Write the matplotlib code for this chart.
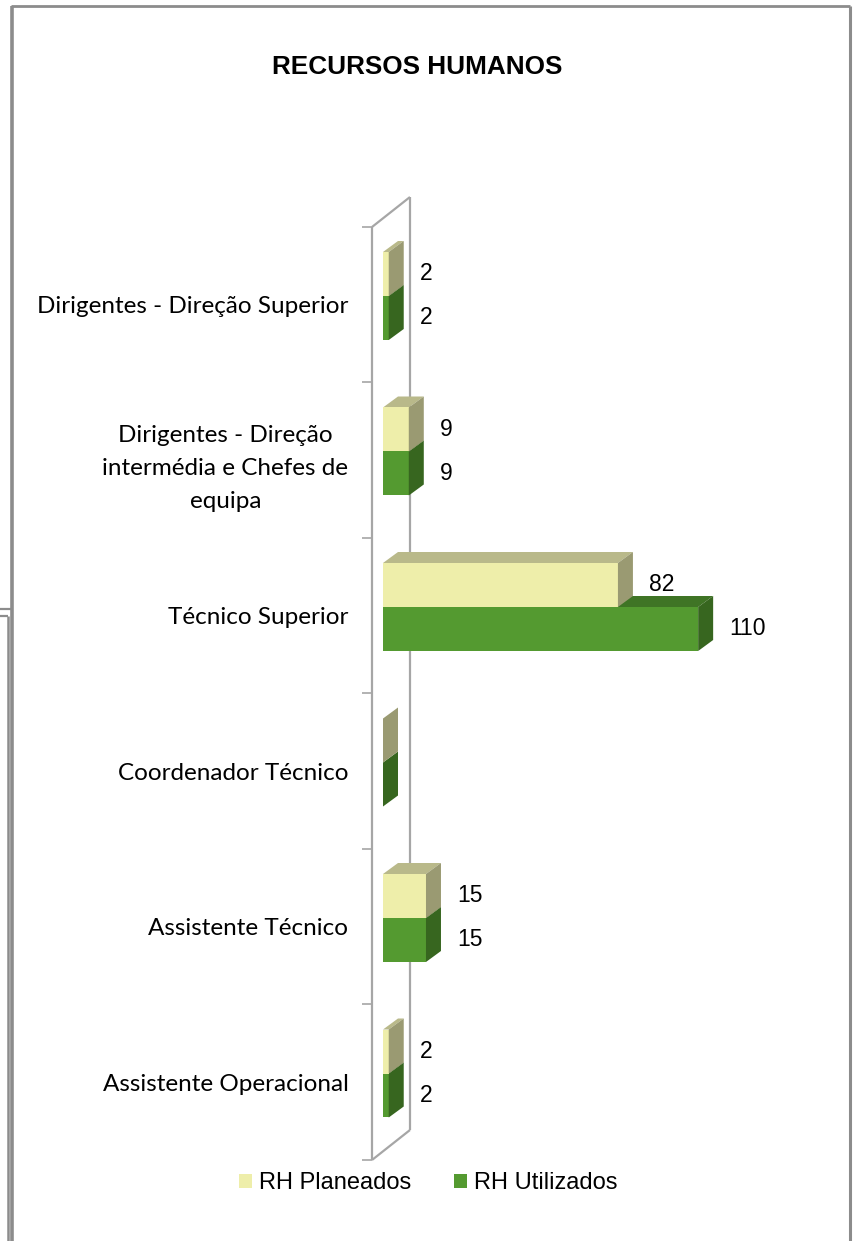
import matplotlib
matplotlib.use("Agg")
import matplotlib.pyplot as plt
from matplotlib.patches import Polygon, Rectangle
from matplotlib.lines import Line2D
from matplotlib import font_manager

# data
categories = [
    "Dirigentes - Direção Superior",
    "Dirigentes - Direção\nintermédia e Chefes de\nequipa",
    "Técnico Superior",
    "Coordenador Técnico",
    "Assistente Técnico",
    "Assistente Operacional",
]
rh_planeados = [2, 9, 82, 0, 15, 2]
rh_utilizados = [2, 9, 110, 0, 15, 2]
series_names = ["RH Planeados", "RH Utilizados"]

# colours: front, top, side
col_plan = ("#EEEEAA", "#B9B98A", "#9A9A72")
col_util = ("#549A30", "#3F7425", "#37661F")
wall_col = "#A6A6A6"

names = {f.name for f in font_manager.fontManager.ttflist}
narrow = "Liberation Sans Narrow" if "Liberation Sans Narrow" in names else "Liberation Sans"
cat_font = "Lato"

W, H = 858, 1241
fig = plt.figure(figsize=(W / 100, H / 100), dpi=100)

# pixel layout of the plot area
px_left, px_right = 372, 800
px_top, px_bottom = 227, 1160
px_per_unit = 2.865
x_min = -(383 - px_left) / px_per_unit
x_max = x_min + (px_right - px_left) / px_per_unit

ax = fig.add_axes([px_left / W, 1 - px_bottom / H,
                   (px_right - px_left) / W, (px_bottom - px_top) / H])
ax.set_xlim(x_min, x_max)
ax.set_ylim(len(categories), 0)
for s in ax.spines.values():
    s.set_visible(False)
ax.set_xticks([])

px_per_cat = (px_bottom - px_top) / len(categories)
# bar depth (pixels -> data)
bdx = 15 / px_per_unit
bdy = -11 / px_per_cat
# wall depth
wdx = 38 / px_per_unit
wdy = -30 / px_per_cat

# wall
n = len(categories)
for pts in ([(x_min, 0), (x_min, n)],
            [(x_min + wdx, wdy), (x_min + wdx, n + wdy)],
            [(x_min, 0), (x_min + wdx, wdy)],
            [(x_min, n), (x_min + wdx, n + wdy)]):
    xs, ys = zip(*pts)
    ax.add_line(Line2D(xs, ys, color=wall_col, lw=1.6, clip_on=False,
                       solid_capstyle="butt", zorder=1))


def box(x1, y0, y1, cols):
    front, top, side = cols
    if x1 > 0:
        ax.add_patch(Polygon([(0, y0), (bdx, y0 + bdy), (x1 + bdx, y0 + bdy), (x1, y0)],
                             closed=True, fc=top, ec="none", clip_on=False, zorder=3))
        ax.add_patch(Rectangle((0, y0), x1, y1 - y0, fc=front, ec="none",
                               clip_on=False, zorder=3))
    ax.add_patch(Polygon([(x1, y0), (x1 + bdx, y0 + bdy), (x1 + bdx, y1 + bdy), (x1, y1)],
                         closed=True, fc=side, ec="none", clip_on=False, zorder=3))


bar_top = 25 / px_per_cat
bar_h = 44 / px_per_cat
label_gap = 16 / px_per_unit
for i in range(n):
    y_p0 = i + bar_top
    y_u0 = y_p0 + bar_h
    box(rh_utilizados[i], y_u0, y_u0 + bar_h, col_util)
    box(rh_planeados[i], y_p0, y_p0 + bar_h, col_plan)
    for v, y0 in ((rh_planeados[i], y_p0), (rh_utilizados[i], y_u0)):
        if v:
            ax.text(v + bdx + label_gap, y0 + bar_h / 2, str(v), ha="left", va="center",
                    fontsize=16.5, family=narrow, color="#000000", zorder=4)

# category axis
ax.set_yticks(range(n + 1))
ax.set_yticklabels([])
ax.tick_params(axis="y", which="major", length=7.5, width=1.2, color=wall_col, direction="out")
ax.set_yticks([i + 0.5 for i in range(n)], minor=True)
ax.set_yticklabels(categories, minor=True, fontsize=17.5, family=cat_font, linespacing=1.7)
ax.tick_params(axis="y", which="minor", length=0, pad=17)
for lab in ax.get_yticklabels(minor=True):
    lab.set_multialignment("center")

# title
fig.text(417 / W, 1 - 67 / H, "RECURSOS HUMANOS", ha="center", va="center",
         fontsize=18.8, fontweight="bold", family="Liberation Sans")

# legend
handles = [Rectangle((0, 0), 1, 1, fc=col_plan[0], ec="none"),
           Rectangle((0, 0), 1, 1, fc=col_util[0], ec="none")]
fig.legend(handles, series_names, loc="center", bbox_to_anchor=(428 / W, 1 - 1183 / H),
           ncol=2, frameon=False, handlelength=0.55, handleheight=0.55, handletextpad=0.3,
           columnspacing=1.8, prop={"family": narrow, "size": 17})

# outer frame like the source document
frame = "#8C8C8C"
for xs, ys, lw in (([11, 850], [6, 6], 2),
                   ([850, 850], [6, 1241], 2.2),
                   ([12, 12], [6, 1241], 2.6),
                   ([0, 11], [609, 609], 1.6),
                   ([0, 8], [616, 616], 1.6),
                   ([8, 8], [616, 1241], 1.8)):
    fig.add_artist(Line2D([x / W for x in xs], [1 - y / H for y in ys],
                          color=frame, lw=lw, solid_capstyle="butt",
                          transform=fig.transFigure))

fig.savefig("out.png", dpi=100)
